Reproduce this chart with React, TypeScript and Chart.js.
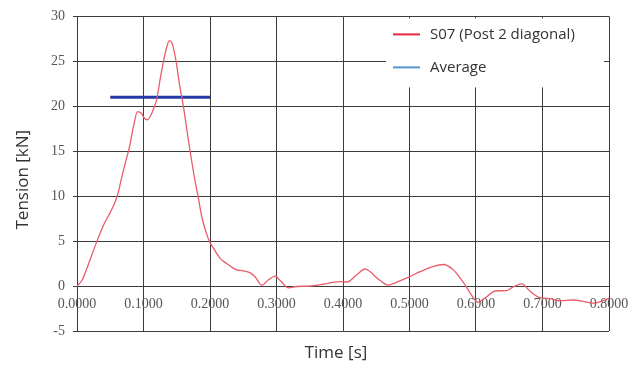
import React, { useEffect, useRef } from 'react';
import { Chart, registerables } from 'chart.js';

Chart.register(...registerables);

// ---- data ----
const timeS = [
  0.0, 0.008, 0.015, 0.022, 0.03, 0.04, 0.05, 0.057, 0.062, 0.066, 0.072, 0.079, 0.085, 0.091, 0.097,
  0.101, 0.106, 0.111, 0.116, 0.12, 0.125, 0.13, 0.135, 0.139, 0.143, 0.149, 0.154, 0.16, 0.168, 0.177,
  0.182, 0.188, 0.194, 0.199, 0.207, 0.215, 0.225, 0.235, 0.24, 0.25, 0.26, 0.268, 0.278, 0.288, 0.298,
  0.307, 0.318, 0.33, 0.35, 0.37, 0.385, 0.396, 0.406, 0.42, 0.433, 0.441, 0.448, 0.458, 0.468, 0.48,
  0.496, 0.516, 0.536, 0.551, 0.566, 0.575, 0.583, 0.594, 0.603, 0.614, 0.629, 0.646, 0.656, 0.669,
  0.681, 0.696, 0.711, 0.726, 0.746, 0.761, 0.776, 0.791, 0.8,
];
const tensionKN = [
  0.0, 0.7, 2.0, 3.4, 5.0, 6.8, 8.2, 9.3, 10.4, 11.7, 13.5, 15.5, 17.8, 19.4, 19.2,
  18.7, 18.5, 19.0, 19.9, 20.8, 23.0, 25.0, 26.6, 27.3, 27.0, 25.0, 22.5, 20.0, 16.0, 11.9,
  10.0, 7.6, 6.0, 5.0, 4.0, 3.1, 2.5, 2.0, 1.8, 1.7, 1.5, 1.0, 0.1, 0.7, 1.1,
  0.5, -0.2, -0.05, 0.0, 0.2, 0.4, 0.5, 0.45, 1.2, 1.9, 1.6, 1.1, 0.5, 0.1, 0.4,
  0.9, 1.6, 2.2, 2.4, 1.8, 1.0, 0.2, -1.1, -1.8, -1.3, -0.55, -0.5, -0.1, 0.25,
  -0.55, -1.3, -1.4, -1.65, -1.55, -1.7, -1.9, -1.65, -1.35,
];
const avgTime = [0.05, 0.2];
const avgValue = [21, 21];

const seriesLabels = ['S07 (Post 2 diagonal)', 'Average'];
const lineColors = ['rgb(234,92,108)', 'rgb(38,56,168)'];
const legendColors = ['rgb(232,40,64)', 'rgb(84,150,210)'];

const xMin = 0, xMax = 0.8, xStep = 0.1;
const yMin = -5, yMax = 30, yStep = 5;
const xTitle = 'Time [s]';
const yTitle = 'Tension [kN]';

const GRID = '#3c3c3c';
const TICK_COLOR = '#555';

const overlayPlugin = {
  id: 'overlay',
  afterDraw(chart: any) {
    const { ctx, chartArea } = chart;
    ctx.save();
    // axis titles
    ctx.fillStyle = '#333';
    ctx.font = '17px "Open Sans"';
    ctx.textAlign = 'center';
    ctx.textBaseline = 'middle';
    ctx.fillText(xTitle, (chartArea.left + chartArea.right) / 2 - 7, chartArea.bottom + 22);
    ctx.save();
    ctx.translate(23, (chartArea.top + chartArea.bottom) / 2 + 6);
    ctx.rotate(-Math.PI / 2);
    ctx.fillText(yTitle, 0, 0);
    ctx.restore();

    // legend box (inside plot, top right)
    const bx = chartArea.right - 223;
    const by = chartArea.top + 2;
    ctx.fillStyle = '#fff';
    ctx.fillRect(bx, by, 218, 69);
    ctx.font = '15px "Open Sans"';
    ctx.textAlign = 'left';
    seriesLabels.forEach((lab, i) => {
      const ly = by + 16 + i * 33;
      ctx.strokeStyle = legendColors[i];
      ctx.lineWidth = 2;
      ctx.beginPath();
      ctx.moveTo(bx + 7, ly);
      ctx.lineTo(bx + 34, ly);
      ctx.stroke();
      ctx.fillStyle = '#333';
      ctx.fillText(lab, bx + 44, ly);
    });
    ctx.restore();
  },
};

export default function App() {
  const ref = useRef<HTMLCanvasElement | null>(null);
  useEffect(() => {
    if (!ref.current) return;
    const chart = new Chart(ref.current, {
      type: 'line',
      data: {
        datasets: [
          {
            label: seriesLabels[0],
            data: timeS.map((t, i) => ({ x: t, y: tensionKN[i] })),
            borderColor: lineColors[0],
            borderWidth: 1.3,
            pointRadius: 0,
            cubicInterpolationMode: 'monotone',
            fill: false,
          },
          {
            label: seriesLabels[1],
            data: avgTime.map((t, i) => ({ x: t, y: avgValue[i] })),
            borderColor: lineColors[1],
            borderWidth: 3,
            pointRadius: 0,
            fill: false,
          },
        ],
      },
      options: {
        animation: false,
        responsive: false,
        events: [],
        layout: { padding: { left: 0, top: 12, right: 32, bottom: 34 } },
        plugins: {
          legend: { display: false },
          tooltip: { enabled: false },
        },
        scales: {
          x: {
            type: 'linear',
            min: xMin,
            max: xMax,
            position: { y: 0 } as any,
            ticks: {
              stepSize: xStep,
              autoSkip: false,
              maxRotation: 0,
              padding: 10,
              color: TICK_COLOR,
              font: { family: '"Liberation Serif"', size: 14 },
              callback: (v: any) => Number(v).toFixed(4),
            },
            grid: { color: GRID, lineWidth: 1, drawTicks: false },
            border: { display: true, color: GRID },
            afterFit: (s: any) => {
              s.height = 0;
            },
          },
          y: {
            type: 'linear',
            min: yMin,
            max: yMax,
            ticks: {
              stepSize: yStep,
              padding: 8,
              color: TICK_COLOR,
              font: { family: '"Liberation Serif"', size: 14 },
            },
            grid: { color: GRID, lineWidth: 1, tickLength: 4 },
            border: { display: true, color: GRID },
            afterFit: (s: any) => {
              s.width = 77;
            },
          },
        },
      },
      plugins: [overlayPlugin],
    });
    return () => chart.destroy();
  }, []);
  return (
    <div style={{ position: 'fixed', left: 0, top: 0, width: 641, height: 365, background: '#fff' }}>
      <canvas ref={ref} width={641} height={365} />
    </div>
  );
}
